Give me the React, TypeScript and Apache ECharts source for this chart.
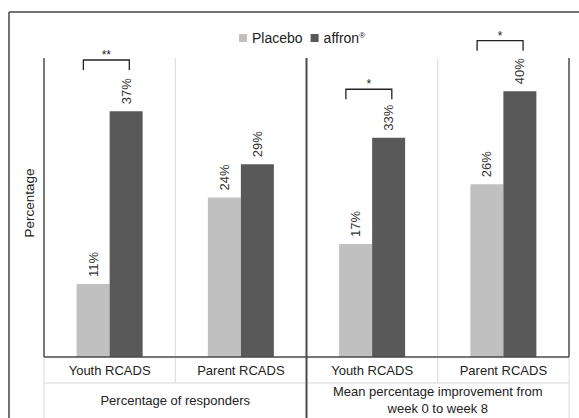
import React, { useEffect, useRef } from "react";
import * as echarts from "echarts";

const categories = ["Youth RCADS", "Parent RCADS", "Youth RCADS", "Parent RCADS"];
const groups = ["Percentage of responders", "Mean percentage improvement from\nweek 0 to week 8"];
const placebo = [11, 24, 17, 26];
const affron = [37, 29, 33, 40];
const bracketCats = [0, 2, 3];
const bracketLevels = [44.7, 40.3, 47.6];
const bracketStars = ["**", "*", "*"];

const FONT = "'Liberation Sans', Arial, Helvetica, sans-serif";

export default function App() {
  const ref = useRef<HTMLDivElement>(null);
  useEffect(() => {
    if (!ref.current) return;
    const chart = echarts.init(ref.current, null, { renderer: "svg" });
    const W = 579;
    const H = 418;
    const L = 44, R = 569, T = 58, B = 357;
    const row1 = 383;
    const cw = (R - L) / 4;
    const dark = "#4a4a4a";
    const light = "#d9d9d9";
    const line = (x1: number, y1: number, x2: number, y2: number, color: string, w: number) => ({
      type: "line",
      shape: { x1, y1, x2, y2 },
      style: { stroke: color, lineWidth: w },
      z: 100,
      silent: true,
    });
    const labelStyle = {
      show: true,
      position: "top",
      rotate: 90,
      align: "left",
      verticalAlign: "middle",
      distance: 7,
      fontSize: 13,
      color: "#333",
      fontFamily: FONT,
      formatter: (p: any) => p.value + "%",
    };
    chart.setOption({
      animation: false,
      textStyle: { fontFamily: FONT },
      legend: {
        data: ["Placebo", "affron®"],
        left: 234,
        top: 26,
        icon: "rect",
        itemWidth: 8,
        itemHeight: 8,
        itemGap: 8,
        textStyle: {
          fontSize: 14,
          color: "#222",
          fontFamily: FONT,
          rich: {
            sup: { fontSize: 8, verticalAlign: "top", padding: [0, 0, 6, 0], color: "#222", fontFamily: FONT },
          },
        },
        formatter: (n: string) => (n === "affron®" ? "affron{sup|®}" : n),
        selectedMode: false,
      },
      grid: { left: L, right: W - R, top: T, bottom: H - B },
      xAxis: [
        {
          type: "category",
          data: categories,
          axisLine: { show: false },
          axisTick: { show: false },
          splitLine: { show: false },
          axisLabel: { fontSize: 13, color: "#222", margin: 7, interval: 0, fontFamily: FONT },
        },
        {
          type: "category",
          data: groups,
          position: "bottom",
          offset: row1 - B,
          axisLine: { show: false },
          axisTick: { show: false },
          axisLabel: {
            fontSize: 13,
            color: "#222",
            margin: 17,
            verticalAlign: "middle",
            lineHeight: 17,
            interval: 0,
            fontFamily: FONT,
          },
        },
      ],
      yAxis: {
        type: "value",
        min: 0,
        max: 45,
        axisLine: { show: false },
        axisTick: { show: false },
        axisLabel: { show: false },
        splitLine: { show: false },
      },
      series: [
        {
          name: "Placebo",
          type: "bar",
          data: placebo,
          barWidth: 33,
          barGap: "0%",
          itemStyle: { color: "#c0c0c0" },
          label: labelStyle,
        },
        {
          name: "affron®",
          type: "bar",
          data: affron,
          barWidth: 33,
          barGap: "0%",
          itemStyle: { color: "#595959" },
          label: labelStyle,
        },
        {
          type: "custom",
          clip: false,
          silent: true,
          z: 10,
          encode: { x: 0, y: 1 },
          data: bracketCats.map((c, i) => [c, bracketLevels[i]]),
          renderItem: (params: any, api: any) => {
            const c = api.coord([api.value(0), api.value(1)]);
            const w = api.size([1, 0])[0];
            const x1 = c[0] - w * 0.2;
            const x2 = c[0] + w * 0.15;
            const y = c[1];
            return {
              type: "group",
              children: [
                {
                  type: "polyline",
                  shape: { points: [[x1, y + 10], [x1, y], [x2, y], [x2, y + 10]] },
                  style: { stroke: "#222", lineWidth: 1.3, fill: "none" },
                },
                {
                  type: "text",
                  style: {
                    x: (x1 + x2) / 2,
                    y: y - 5,
                    text: bracketStars[params.dataIndex],
                    align: "center",
                    verticalAlign: "middle",
                    fontSize: 12,
                    fill: "#222",
                    fontFamily: FONT,
                  },
                },
              ],
            };
          },
        },
      ],
      graphic: [
        line(9, 12, 579, 12, "#444", 1.5),
        line(9, 12, 9, 418, "#444", 1.5),
        line(L, B, L, H, light, 1),
        line(R, B, R, H, light, 1),
        line(L + cw, T, L + cw, row1, light, 1),
        line(L + 3 * cw, T, L + 3 * cw, row1, light, 1),
        line(L, row1, R, row1, light, 1),
        line(L, T, L, B, dark, 1.5),
        line(R, T, R, B, dark, 1.5),
        line(L, B, R, B, dark, 1.5),
        line(L + 2 * cw, T, L + 2 * cw, H, dark, 2),
        {
          type: "text",
          x: 29,
          y: 203,
          rotation: Math.PI / 2,
          silent: true,
          style: {
            text: "Percentage",
            align: "center",
            verticalAlign: "middle",
            fontSize: 13.5,
            fill: "#222",
            fontFamily: FONT,
          },
        },
      ],
    });
    return () => chart.dispose();
  }, []);
  return <div ref={ref} style={{ width: 579, height: 418, position: "absolute", left: 0, top: 0 }} />;
}
